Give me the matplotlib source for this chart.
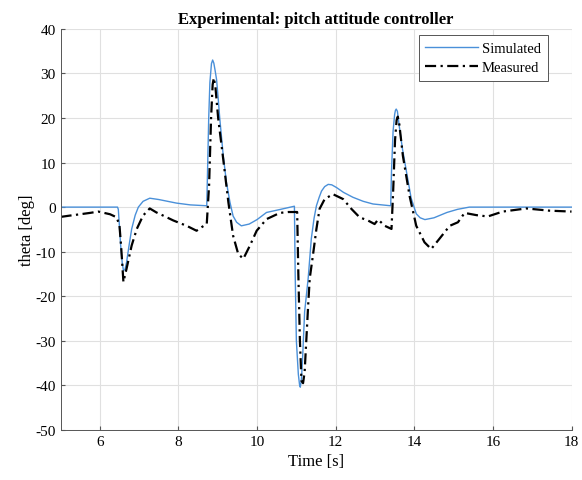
import matplotlib
matplotlib.use('Agg')
import matplotlib.pyplot as plt

# values
t_sim = [5.0, 6.45, 6.47, 6.50, 6.53, 6.57, 6.60, 6.64, 6.68, 6.74, 6.81, 6.90, 6.98, 7.10, 7.27, 7.50,
         7.95, 8.30, 8.72,
         8.74, 8.77, 8.80, 8.84, 8.87, 8.90, 8.93, 8.97, 9.01, 9.05, 9.14, 9.22, 9.31, 9.39, 9.48, 9.60,
         9.80, 10.00, 10.24, 10.60, 10.95,
         10.97, 11.00, 11.05, 11.08, 11.10, 11.13, 11.16, 11.21, 11.30, 11.38, 11.45, 11.51, 11.58,
         11.64, 11.72, 11.81, 11.90, 12.02, 12.20, 12.44, 12.70, 12.95, 13.40,
         13.42, 13.46, 13.50, 13.52, 13.54, 13.57, 13.62, 13.70, 13.80, 13.92, 14.05, 14.15, 14.27,
         14.50, 14.83, 15.10, 15.40, 16.00, 18.0]
y_sim = [0.0, 0.0, -0.5, -4.5, -8.6, -12.5, -14.2, -14.0, -12.4, -8.8, -4.9, -1.8, 0.0, 1.3, 2.0, 1.7,
         0.9, 0.5, 0.3,
         8.0, 20.0, 28.0, 32.2, 33.0, 32.3, 30.8, 28.6, 24.5, 20.0, 11.5, 5.6, 1.1, -2.0, -3.4, -4.2,
         -3.8, -2.8, -1.2, -0.5, 0.2,
         -15.0, -30.0, -37.5, -39.8, -40.4, -38.5, -33.5, -23.5, -16.0, -7.1, -2.5, 0.3, 2.2,
         3.6, 4.6, 5.1, 5.0, 4.4, 3.3, 2.2, 1.3, 0.7, 0.3,
         8.0, 17.0, 20.8, 21.7, 22.0, 21.5, 18.0, 13.0, 8.0, 2.0, -1.5, -2.4, -2.8,
         -2.4, -1.2, -0.5, 0.0, 0.0, 0.0]

t_meas = [5.0, 5.24, 5.50, 5.75, 5.96, 6.26, 6.43, 6.50, 6.54, 6.60, 6.68, 6.81, 6.94, 7.10,
          7.27, 7.44, 7.61, 7.87, 8.21, 8.46, 8.59, 8.72,
          8.78, 8.83, 8.87, 8.90, 8.94, 9.01, 9.14, 9.27, 9.39, 9.52, 9.65, 9.82, 9.99, 10.24, 10.58,
          10.80, 11.02,
          11.05, 11.09, 11.13, 11.17, 11.21, 11.30, 11.34, 11.42, 11.51, 11.59, 11.72, 11.93,
          12.19, 12.40, 12.61, 12.82, 12.99, 13.08, 13.25, 13.42,
          13.46, 13.51, 13.55, 13.58, 13.62, 13.71, 13.88, 14.05, 14.26, 14.43, 14.64, 14.90, 15.11,
          15.28, 15.58, 15.87, 16.25, 16.85, 17.44, 18.0]
y_meas = [-2.2, -1.9, -1.6, -1.3, -1.0, -1.6, -2.3, -4.2, -8.6, -16.8, -13.8, -8.6, -4.9, -1.9,
          -0.3, -1.2, -1.9, -3.0, -4.2, -5.3, -4.5, -3.8,
          5.0, 20.0, 27.5, 29.0, 27.0, 20.0, 10.7, 1.1, -6.4, -10.5, -11.6, -8.6, -5.3, -2.7, -1.3,
          -1.1, -1.1,
          -15.0, -30.0, -39.0, -39.5, -37.0, -22.0, -16.0, -10.9, -4.9, -0.4, 1.8, 2.9,
          1.8, -0.4, -2.3, -3.0, -3.8, -2.8, -4.2, -4.9,
          3.0, 15.0, 19.5, 20.3, 18.5, 11.5, 2.5, -4.2, -7.9, -9.4, -7.1, -4.2, -3.4,
          -1.3, -1.8, -2.1, -1.0, -0.3, -0.8, -1.0]

plt.rcParams['font.family'] = ['Liberation Serif', 'DejaVu Serif']
plt.rcParams['axes.unicode_minus'] = False

fig = plt.figure(figsize=(5.82, 4.81), dpi=100)
ax = fig.add_axes([0.104, 0.104, 0.878, 0.834])

ax.plot(t_sim, y_sim, color='#4a90d9', linewidth=1.0, label='Simulated')
ax.plot(t_meas, y_meas, color='black', linewidth=1.6, linestyle=(0, (5, 2, 1, 2)), label='Measured')

ax.set_xlim(5, 18)
ax.set_ylim(-50, 40)
ax.set_xticks([6, 8, 10, 12, 14, 16, 18])
ax.set_yticks(range(-50, 41, 10))
ax.grid(True, color='#e0e0e0', linewidth=0.8)
ax.set_axisbelow(True)
ax.tick_params(direction='in', labelsize=11, length=3, color='#555555')
ax.spines['top'].set_visible(False)
ax.spines['right'].set_visible(False)
for s in ('left', 'bottom'):
    ax.spines[s].set_color('#555555')
    ax.spines[s].set_linewidth(0.7)

ax.set_xlabel('Time [s]', fontsize=12)
ax.set_ylabel('theta [deg]', fontsize=12, labelpad=0)
ax.set_title('Experimental: pitch attitude controller', fontsize=12, fontweight='bold', pad=4)

leg = ax.legend(loc='upper right', bbox_to_anchor=(0.953, 0.985), fontsize=10.5, fancybox=False,
                framealpha=1, edgecolor='#555555', borderpad=0.45, handlelength=3.6,
                handletextpad=0.3, labelspacing=0.45, borderaxespad=0)
leg.get_frame().set_linewidth(0.7)

fig.savefig('out.png', dpi=100)
